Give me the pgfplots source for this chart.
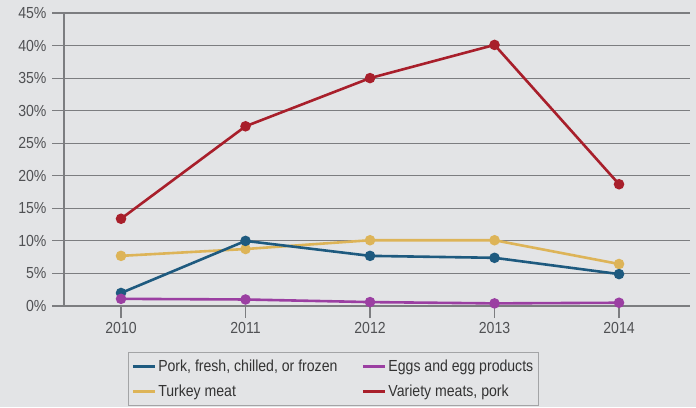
\documentclass[border=0pt]{standalone}
\usepackage{fontspec}
\setmainfont{Liberation Sans}[FakeStretch=0.88]
\usepackage{pgfplots}
\pgfplotsset{compat=1.18}

\definecolor{bgc}{HTML}{E3E4E6}
\definecolor{gridc}{HTML}{7C7D80}
\definecolor{txtc}{HTML}{505154}
\definecolor{porkc}{HTML}{1E5A7F}
\definecolor{eggc}{HTML}{9B3FA2}
\definecolor{turkc}{HTML}{DDB458}
\definecolor{varc}{HTML}{A81F2B}

\begin{document}
\begin{tikzpicture}[x=1pt,y=1pt]
\useasboundingbox (0,0) rectangle (696,407);
\clip (0,0) rectangle (696,407);
\fill[bgc] (0,0) rectangle (696,407);
\begin{axis}[
  at={(64pt,101pt)}, anchor=south west,
  scale only axis, width=626pt, height=293pt,
  xmin=2009.542, xmax=2014.57,
  ymin=0, ymax=45,
  xtick={2010,2011,2012,2013,2014},
  xticklabels={2010,2011,2012,2013,2014},
  ytick={0,5,...,45},
  yticklabel={\pgfmathprintnumber{\tick}\%},
  /pgf/number format/assume math mode=true,
  axis x line=bottom, axis y line=left,
  axis line style={gridc, line width=1.2pt, -},
  ymajorgrids, grid style={gridc, line width=1.2pt},
  tick align=outside, major tick length=12pt,
  tick style={gridc, line width=1.2pt},
  xtick pos=bottom, ytick pos=left,
  ticklabel style={font=\fontsize{16}{19}\selectfont, text=txtc},
  xticklabel style={yshift=-1pt},
  yticklabel style={xshift=-2pt},
  clip=false,
  legend columns=2,
  legend cell align=left,
  legend style={at={(0.102,-0.157)}, anchor=north west,
    draw=gridc!70, fill=bgc, line width=0.8pt,
    font=\fontsize{16}{19}\selectfont, text=black!80,
    inner xsep=3pt, inner ysep=6pt,
    /tikz/every even column/.append style={column sep=22pt},
    row sep=7pt},
  legend image code/.code={\draw[#1, line width=3pt] (0pt,0pt) -- (22pt,0pt);},
  every axis plot/.append style={line width=2.6pt, mark=*, mark size=3.9pt},
]
\addlegendimage{porkc}
\addlegendentry{Pork, fresh, chilled, or frozen}
\addlegendimage{eggc}
\addlegendentry{Eggs and egg products}
\addlegendimage{turkc}
\addlegendentry{Turkey meat}
\addlegendimage{varc}
\addlegendentry{Variety meats, pork}

% Turkey meat
\addplot[turkc, mark options={fill=turkc, draw=turkc}, forget plot] coordinates {
  (2010,7.7) (2011,8.75) (2012,10.1) (2013,10.1) (2014,6.45)};
% Pork, fresh, chilled, or frozen
\addplot[porkc, mark options={fill=porkc, draw=porkc}, forget plot] coordinates {
  (2010,2.0) (2011,10.0) (2012,7.7) (2013,7.4) (2014,4.9)};
% Eggs and egg products
\addplot[eggc, mark options={fill=eggc, draw=eggc}, forget plot] coordinates {
  (2010,1.1) (2011,1.0) (2012,0.6) (2013,0.4) (2014,0.5)};
% Variety meats, pork
\addplot[varc, mark options={fill=varc, draw=varc}, forget plot] coordinates {
  (2010,13.4) (2011,27.6) (2012,35.0) (2013,40.1) (2014,18.7)};
\end{axis}
\end{tikzpicture}
\end{document}
